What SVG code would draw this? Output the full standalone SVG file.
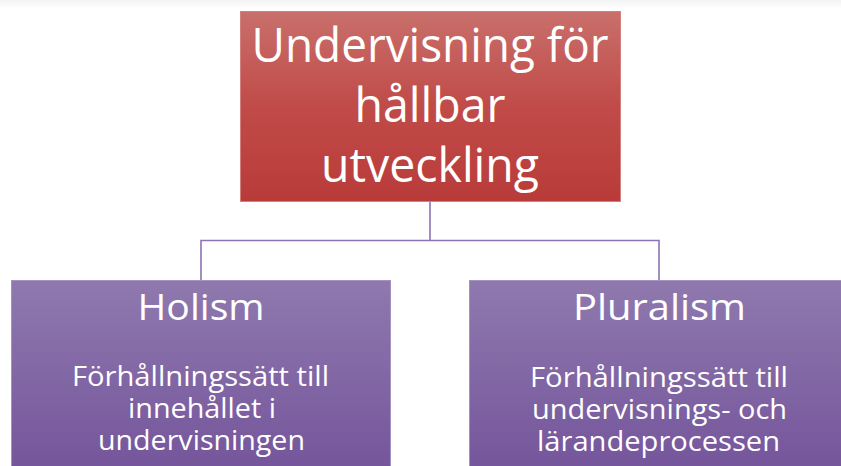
<svg xmlns="http://www.w3.org/2000/svg" width="841" height="466" viewBox="0 0 841 466">
  <defs>
    <linearGradient id="redFill" x1="0" y1="0" x2="0" y2="1">
      <stop offset="0" stop-color="#c96f6b"/>
      <stop offset="0.5" stop-color="#c04b48"/>
      <stop offset="1" stop-color="#b93b39"/>
    </linearGradient>
    <linearGradient id="purpleFill" x1="0" y1="0" x2="0" y2="1">
      <stop offset="0" stop-color="#8f79ae"/>
      <stop offset="1" stop-color="#73539a"/>
    </linearGradient>
    <linearGradient id="topShade" x1="0" y1="0" x2="0" y2="1">
      <stop offset="0" stop-color="#f3f3f3"/>
      <stop offset="1" stop-color="#ffffff"/>
    </linearGradient>
    <style>
      .hdr { fill: url(#redFill); stroke: #d3807d; stroke-width: 1; }
      .sub { fill: url(#purpleFill); stroke: #a591c2; stroke-width: 1; }
      .link { fill: none; stroke: #8d73b4; stroke-width: 1.6; }
      text { fill: #ffffff; font-family: "Open Sans", "Noto Sans", sans-serif; text-anchor: middle; }
      .t1 { font-size: 48px; }
      .t2 { font-size: 36px; }
      .t3 { font-size: 28px; }
    </style>
  </defs>

  <rect x="0" y="0" width="841" height="466" fill="#ffffff"/>
  <rect x="0" y="0" width="841" height="9" fill="url(#topShade)"/>

  <!-- connectors -->
  <g id="connectors">
    <path class="link" d="M430 201 V240.5 M201 280 V240.5 H659 V280"/>
  </g>

  <!-- root node -->
  <g id="node-root">
    <rect class="hdr" x="240.5" y="11.5" width="380" height="190"/>
    <text class="t1" x="430" y="62" textLength="357" lengthAdjust="spacingAndGlyphs">Undervisning för</text>
    <text class="t1" x="430" y="122" textLength="151" lengthAdjust="spacingAndGlyphs">hållbar</text>
    <text class="t1" x="430" y="182" textLength="218" lengthAdjust="spacingAndGlyphs">utveckling</text>
  </g>

  <!-- holism node -->
  <g id="node-holism">
    <rect class="sub" x="11.5" y="280.5" width="379" height="200"/>
    <text class="t2" x="201" y="320" textLength="127" lengthAdjust="spacingAndGlyphs">Holism</text>
    <text class="t3" x="200.5" y="386" textLength="257" lengthAdjust="spacingAndGlyphs">Förhållningssätt till</text>
    <text class="t3" x="202" y="418" textLength="148" lengthAdjust="spacingAndGlyphs">innehållet i</text>
    <text class="t3" x="201.5" y="450" textLength="207" lengthAdjust="spacingAndGlyphs">undervisningen</text>
  </g>

  <!-- pluralism node -->
  <g id="node-pluralism">
    <rect class="sub" x="469.5" y="280.5" width="380" height="200"/>
    <text class="t2" x="659.5" y="320" textLength="173" lengthAdjust="spacingAndGlyphs">Pluralism</text>
    <text class="t3" x="659" y="387" textLength="258" lengthAdjust="spacingAndGlyphs">Förhållningssätt till</text>
    <text class="t3" x="659.5" y="419" textLength="255" lengthAdjust="spacingAndGlyphs">undervisnings- och</text>
    <text class="t3" x="658.5" y="451" textLength="243" lengthAdjust="spacingAndGlyphs">lärandeprocessen</text>
  </g>
</svg>
